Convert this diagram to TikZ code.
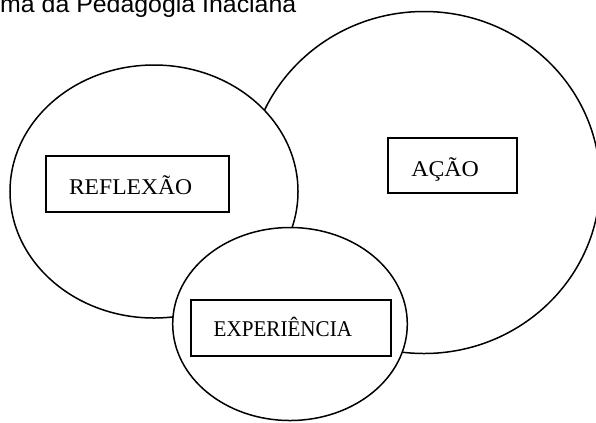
\documentclass[tikz,border=0pt]{standalone}
\usepackage{graphicx}
\usepackage{fontspec}
\setmainfont{Liberation Serif}
\newfontfamily\titlefont{Liberation Sans}
\usetikzlibrary{shapes.geometric}
\newcommand{\hs}[2]{\scalebox{#1}[1]{#2}}
\tikzset{
  ring/.style={draw, ellipse, fill=white, line width=1.5bp, inner sep=0pt, outer sep=0pt},
  labelbox/.style={draw, rectangle, fill=white, line width=1.7bp, inner xsep=23bp, inner ysep=0pt,
    outer sep=0pt, align=left, anchor=north west, font=\fontsize{22.5bp}{24bp}\selectfont},
  titletext/.style={inner sep=0pt, anchor=base west, font=\titlefont\fontsize{24bp}{26bp}\selectfont}
}
\begin{document}
\begin{tikzpicture}[x=1bp,y=-1bp]
\useasboundingbox (0,0) rectangle (596,422);
\clip (0,0) rectangle (596,422);
\fill[white] (0,0) rectangle (596,422);
\node[titletext] (title) at (0,12) {\hs{1.037}{ma da Pedagogia Inaciana}};
\node[ring, minimum width=352bp, minimum height=342bp] (acao) at (424,182.5) {};
\node[ring, minimum width=288bp, minimum height=253bp] (reflexao) at (154,191.5) {};
\node[ring, minimum width=234.6bp, minimum height=193bp] (experiencia) at (290,324) {};
\node[labelbox, text width=137.3bp, text height=38.3bp, text depth=17.7bp] (boxreflexao) at (46,155.7) {\hs{1.049}{REFLEXÃO}};
\node[labelbox, text width=82.4bp, text height=39bp, text depth=16.6bp] (boxacao) at (388.3,137.7) {\hs{1.061}{AÇÃO}};
\node[labelbox, text width=154.3bp, text height=36.7bp, text depth=19bp] (boxexperiencia) at (190.7,300) {\hs{0.938}{EXPERIÊNCIA}};
\end{tikzpicture}
\end{document}
